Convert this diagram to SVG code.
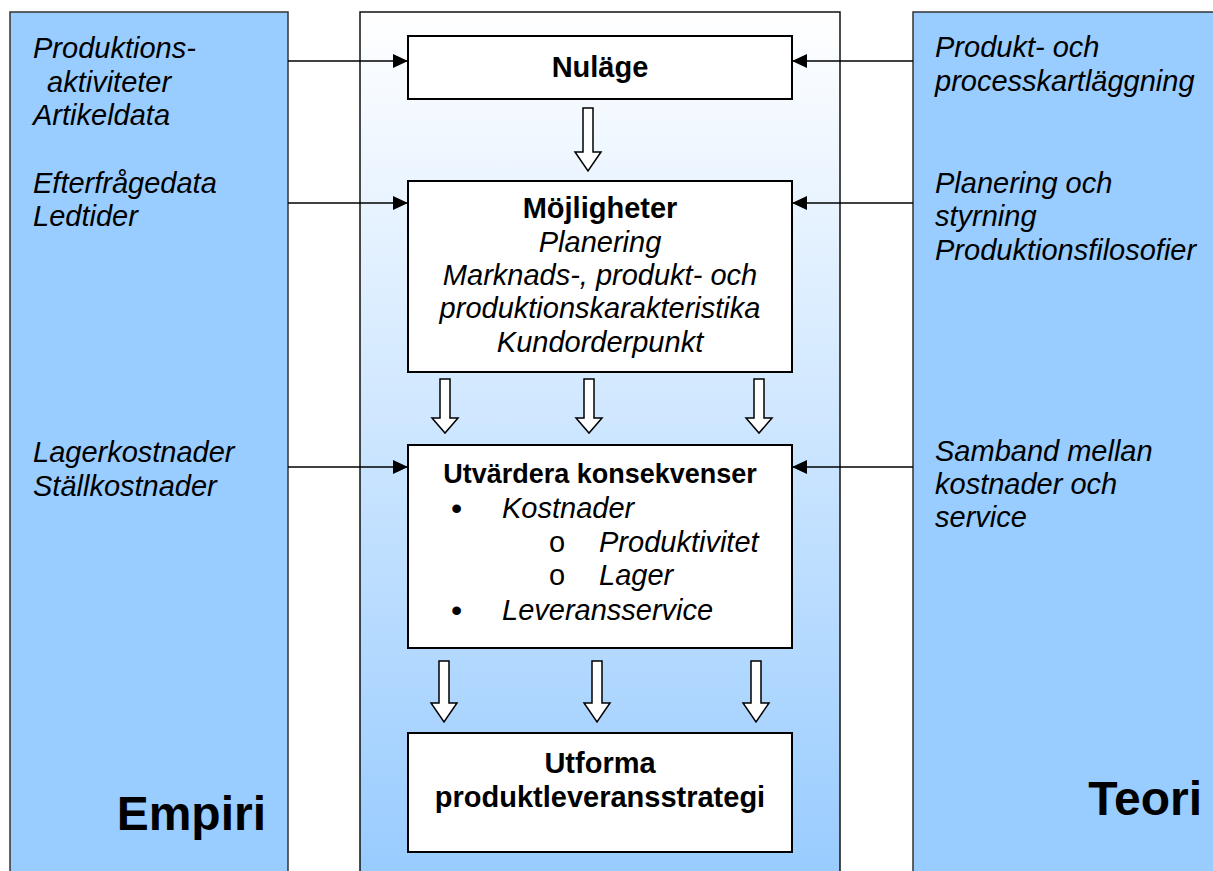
<svg xmlns="http://www.w3.org/2000/svg" width="1213" height="871" viewBox="0 0 1213 871">
  <defs>
    <linearGradient id="midFill" x1="0" y1="12" x2="0" y2="871" gradientUnits="userSpaceOnUse">
      <stop offset="0" stop-color="#FFFFFF"/>
      <stop offset="1" stop-color="#99CCFF"/>
    </linearGradient>
    <marker id="tip" viewBox="0 0 15 14" refX="15" refY="7" markerWidth="15" markerHeight="14" markerUnits="userSpaceOnUse" orient="auto">
      <path d="M0,0 L15,7 L0,14 Z" fill="#000"/>
    </marker>
    <style>
      .side { fill: #99CCFF; stroke: #333; stroke-width: 1.5; }
      .mid { fill: url(#midFill); stroke: #111; stroke-width: 1.5; }
      .box { fill: #FFFFFF; stroke: #000; stroke-width: 2; }
      .blk { fill: #FFFFFF; stroke: #000; stroke-width: 1.5; stroke-linejoin: miter; }
      .link { fill: none; stroke: #000; stroke-width: 1.5; marker-end: url(#tip); }
      text { font-family: "Liberation Sans", Arial, sans-serif; fill: #000; }
      .it { font-size: 29px; font-style: italic; }
      .bd { font-size: 29px; font-weight: bold; }
      .big { font-size: 48px; font-weight: bold; }
      .mark { font-size: 29px; font-style: normal; }
      .c { text-anchor: middle; }
    </style>
  </defs>

  <!-- Background panels -->
  <g id="empiri">
    <rect class="side" x="10" y="12" width="278" height="875"/>
    <text class="it" x="33" y="58">Produktions-</text>
    <text class="it" x="47" y="92">aktiviteter</text>
    <text class="it" x="33" y="125">Artikeldata</text>
    <text class="it" x="33" y="193">Efterfrågedata</text>
    <text class="it" x="33" y="226">Ledtider</text>
    <text class="it" x="33" y="462">Lagerkostnader</text>
    <text class="it" x="33" y="496">Ställkostnader</text>
    <text class="big" x="266" y="830" text-anchor="end">Empiri</text>
  </g>

  <g id="process-panel">
    <rect class="mid" x="360" y="12" width="480" height="875"/>
  </g>

  <g id="teori">
    <rect class="side" x="913" y="12" width="310" height="875"/>
    <text class="it" x="935" y="57">Produkt- och</text>
    <text class="it" x="935" y="91">processkartläggning</text>
    <text class="it" x="935" y="193">Planering och</text>
    <text class="it" x="935" y="226">styrning</text>
    <text class="it" x="935" y="260">Produktionsfilosofier</text>
    <text class="it" x="935" y="461">Samband mellan</text>
    <text class="it" x="935" y="494">kostnader och</text>
    <text class="it" x="935" y="527">service</text>
    <text class="big" x="1202" y="815" text-anchor="end">Teori</text>
  </g>

  <!-- Process steps -->
  <g id="nulage">
    <rect class="box" x="408" y="36" width="384" height="63"/>
    <text class="bd c" x="600" y="77">Nuläge</text>
  </g>

  <g id="mojligheter">
    <rect class="box" x="408" y="181" width="384" height="191"/>
    <text class="bd c" x="600" y="218">Möjligheter</text>
    <text class="it c" x="600" y="252">Planering</text>
    <text class="it c" x="600" y="285">Marknads-, produkt- och</text>
    <text class="it c" x="600" y="318">produktionskarakteristika</text>
    <text class="it c" x="600" y="352">Kundorderpunkt</text>
  </g>

  <g id="utvardera">
    <rect class="box" x="408" y="445" width="384" height="203"/>
    <text class="bd c" x="600" y="483" style="font-size:27px">Utvärdera konsekvenser</text>
    <text class="mark" x="451" y="519" style="font-size:32px">•</text>
    <text class="it" x="502" y="518">Kostnader</text>
    <text class="mark" x="549" y="552">o</text>
    <text class="it" x="599" y="552">Produktivitet</text>
    <text class="mark" x="549" y="585">o</text>
    <text class="it" x="599" y="585">Lager</text>
    <text class="mark" x="451" y="621" style="font-size:32px">•</text>
    <text class="it" x="502" y="620">Leveransservice</text>
  </g>

  <g id="utforma">
    <rect class="box" x="408" y="733" width="384" height="119"/>
    <text class="bd c" x="600" y="773">Utforma</text>
    <text class="bd c" x="600" y="807">produktleveransstrategi</text>
  </g>

  <!-- Connectors -->
  <g id="connectors">
    <line class="link" x1="288" y1="61" x2="408" y2="61"/>
    <line class="link" x1="288" y1="203" x2="408" y2="203"/>
    <line class="link" x1="288" y1="467" x2="408" y2="467"/>
    <line class="link" x1="913" y1="61" x2="792" y2="61"/>
    <line class="link" x1="913" y1="203" x2="792" y2="203"/>
    <line class="link" x1="913" y1="467" x2="792" y2="467"/>

    <!-- block arrows: Nuläge to Möjligheter -->
    <path class="blk" d="M583,108 H593 V152 H601 L588,171 L575,152 H583 Z"/>
    <!-- block arrows: Möjligheter to Utvärdera -->
    <path class="blk" d="M440,379 H450 V418 H458 L445,433 L432,418 H440 Z"/>
    <path class="blk" d="M584,379 H594 V418 H602 L589,433 L576,418 H584 Z"/>
    <path class="blk" d="M754,379 H764 V418 H772 L759,433 L746,418 H754 Z"/>
    <!-- block arrows: Utvärdera to Utforma -->
    <path class="blk" d="M439,661 H449 V703 H457 L444,722 L431,703 H439 Z"/>
    <path class="blk" d="M592,661 H602 V703 H610 L597,722 L584,703 H592 Z"/>
    <path class="blk" d="M751,661 H761 V703 H769 L756,722 L743,703 H751 Z"/>
  </g>
</svg>
